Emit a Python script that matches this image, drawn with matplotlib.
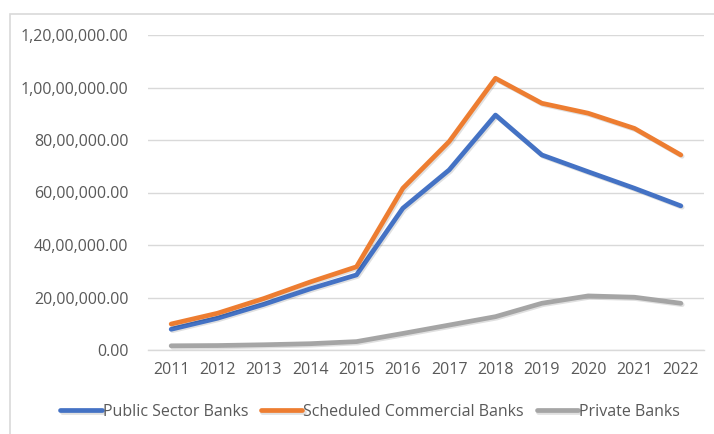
import matplotlib
matplotlib.use("Agg")
import matplotlib.pyplot as plt
from matplotlib.patches import Rectangle
from matplotlib.ticker import FuncFormatter, MultipleLocator
import matplotlib.patheffects as pe

plt.rcParams['font.family'] = ['Open Sans', 'DejaVu Sans']

years = ["2011", "2012", "2013", "2014", "2015", "2016",
         "2017", "2018", "2019", "2020", "2021", "2022"]
public_sector = [790000, 1210000, 1740000, 2330000, 2860000, 5400000,
                 6860000, 8950000, 7430000, 6790000, 6160000, 5490000]
scheduled_commercial = [990000, 1400000, 1960000, 2590000, 3170000, 6160000,
                        7940000, 10350000, 9400000, 9020000, 8440000, 7430000]
private_banks = [160000, 170000, 200000, 240000, 320000, 630000,
                 950000, 1270000, 1780000, 2060000, 2010000, 1780000]

series = [
    ("Public Sector Banks", public_sector, "#4472C4"),
    ("Scheduled Commercial Banks", scheduled_commercial, "#ED7D31"),
    ("Private Banks", private_banks, "#A5A5A5"),
]


def indian_format(v, pos=None):
    neg = v < 0
    v = abs(v)
    whole = int(round(v * 100)) // 100
    frac = int(round(v * 100)) % 100
    s = str(whole)
    if len(s) > 3:
        head, tail = s[:-3], s[-3:]
        groups = []
        while len(head) > 2:
            groups.insert(0, head[-2:])
            head = head[:-2]
        if head:
            groups.insert(0, head)
        s = ",".join(groups) + "," + tail
    return ("-" if neg else "") + f"{s}.{frac:02d}"


W, H = 714, 434
fig = plt.figure(figsize=(W / 100, H / 100), dpi=100)
fig.patch.set_facecolor("white")

# chart frame
fig.add_artist(Rectangle((10 / W, -0.1), 1.2, 1.1 - 14 / H,
                         transform=fig.transFigure, fill=False,
                         edgecolor="#d9d9d9", linewidth=1.2))

ax = fig.add_axes([148 / W, 1 - 350 / H, (704 - 148) / W, (350 - 35) / H])
x = list(range(len(years)))

for name, vals, color in series:
    ax.plot(x, vals, color=color, lw=3.4, label=name,
            solid_capstyle="round", solid_joinstyle="round",
            path_effects=[pe.SimpleLineShadow(offset=(1, -1), alpha=0.12,
                                              shadow_color="black"),
                          pe.Normal()])

ax.set_xlim(-0.5, len(years) - 0.5)
ax.set_ylim(0, 12000000)
ax.yaxis.set_major_locator(MultipleLocator(2000000))
ax.yaxis.set_major_formatter(FuncFormatter(indian_format))
ax.set_xticks(x)
ax.set_xticklabels(years)

ax.grid(axis="y", color="#d9d9d9", lw=1.0)
ax.set_axisbelow(True)
for s in ["top", "right", "left"]:
    ax.spines[s].set_visible(False)
ax.spines["bottom"].set_color("#d9d9d9")
ax.spines["bottom"].set_linewidth(1.0)
ax.tick_params(axis="both", length=0, labelsize=11.5, colors="#595959")
ax.tick_params(axis="y", pad=14)
ax.tick_params(axis="x", pad=9)

handles, labels = ax.get_legend_handles_labels()
leg = fig.legend(handles, labels, loc="center", ncol=3,
                 bbox_to_anchor=(370 / W, 1 - 412 / H), frameon=False,
                 handlelength=2.6, handletextpad=0.05, columnspacing=0.8,
                 fontsize=11.5)
for t in leg.get_texts():
    t.set_color("#595959")

fig.savefig("out.png", dpi=100, facecolor="white")
